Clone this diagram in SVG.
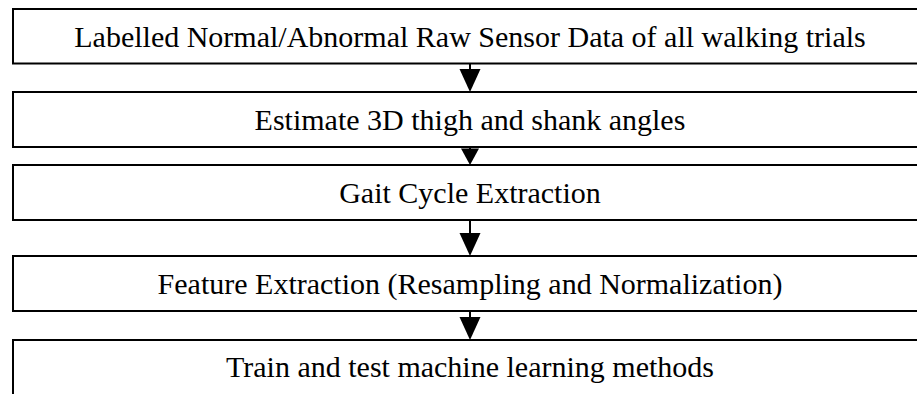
<svg xmlns="http://www.w3.org/2000/svg" width="917" height="394" viewBox="0 0 917 394">
<style>
.box{fill:#fff;stroke:#000;stroke-width:2}
.lbl{font-family:"Liberation Serif","Times New Roman",serif;font-size:30px;fill:#000;text-anchor:middle}
.shaft{stroke:#000;stroke-width:2;fill:none}
.head{fill:#000;stroke:none}
</style>
<rect width="917" height="394" fill="#fff"/>
<g id="n1"><rect class="box" x="13" y="9" width="920" height="54.5"/><text class="lbl" x="470" y="46.5">Labelled Normal/Abnormal Raw Sensor Data of all walking trials</text></g>
<g id="n2"><rect class="box" x="13" y="92" width="920" height="55"/><text class="lbl" x="470" y="130">Estimate 3D thigh and shank angles</text></g>
<g id="n3"><rect class="box" x="13" y="165" width="920" height="55"/><text class="lbl" x="470" y="203">Gait Cycle Extraction</text></g>
<g id="n4"><rect class="box" x="13" y="256" width="920" height="55"/><text class="lbl" x="470" y="294">Feature Extraction (Resampling and Normalization)</text></g>
<g id="n5"><rect class="box" x="13" y="340" width="920" height="60"/><text class="lbl" x="470" y="377">Train and test machine learning methods</text></g>
<g id="connectors">
<line class="shaft" x1="470" y1="63.5" x2="470" y2="71"/><polygon class="head" points="459.5,69 480.5,69 470,92"/>
<line class="shaft" x1="470" y1="147" x2="470" y2="150"/><polygon class="head" points="461,148.5 479,148.5 470,165"/>
<line class="shaft" x1="470" y1="220" x2="470" y2="235"/><polygon class="head" points="459.5,233 480.5,233 470,256"/>
<line class="shaft" x1="470" y1="311" x2="470" y2="319"/><polygon class="head" points="459.5,317 480.5,317 470,340"/>
</g>
</svg>
